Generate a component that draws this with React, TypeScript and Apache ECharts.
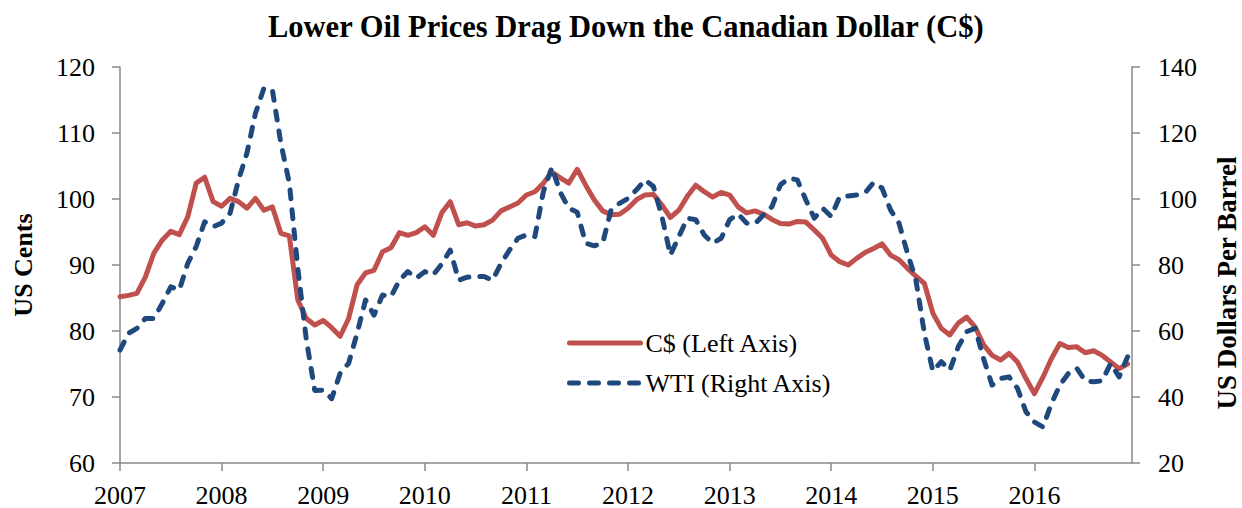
import React, { useEffect, useRef } from "react";
import * as echarts from "echarts";

const startYear = 2007;
const xTicks = [2007, 2008, 2009, 2010, 2011, 2012, 2013, 2014, 2015, 2016];
const leftTicks = [60, 70, 80, 90, 100, 110, 120];
const rightTicks = [20, 40, 60, 80, 100, 120, 140];

// C$ in US cents, monthly Jan 2007 .. Dec 2016
const cad = [
  85.2, 85.4, 85.7, 88.2, 91.8, 93.8, 95.1, 94.6, 97.3, 102.4, 103.3, 99.6,
  98.9, 100.1, 99.6, 98.6, 100.1, 98.3, 98.8, 94.8, 94.4, 84.7, 81.9, 80.9,
  81.6, 80.5, 79.2, 81.9, 87.0, 88.8, 89.2, 92.0, 92.6, 94.9, 94.5, 94.9,
  95.8, 94.5, 97.9, 99.6, 96.1, 96.4, 95.9, 96.1, 96.8, 98.2, 98.8, 99.4,
  100.6, 101.1, 102.4, 104.1, 103.2, 102.4, 104.5, 102.1, 99.9, 98.2, 97.6, 97.7,
  98.6, 99.9, 100.6, 100.7, 99.1, 97.2, 98.3, 100.4, 102.1, 101.1, 100.3, 101.0,
  100.6, 98.8, 97.9, 98.2, 97.7, 96.9, 96.3, 96.2, 96.6, 96.5, 95.3, 94.0,
  91.5, 90.5, 90.0, 91.0, 91.9, 92.5, 93.2, 91.5, 90.8, 89.5, 88.3, 87.2,
  82.7, 80.4, 79.4, 81.2, 82.1, 80.6, 77.9, 76.3, 75.6, 76.6, 75.3, 72.8,
  70.5, 73.0, 75.8, 78.1, 77.5, 77.6, 76.7, 77.0, 76.3, 75.3, 74.3, 75.0,
];

// WTI in US dollars per barrel, monthly Jan 2007 .. Dec 2016
const wti = [
  54.2, 59.3, 60.8, 63.8, 63.8, 68.4, 73.4, 72.4, 80.5, 85.6, 93.1, 91.6,
  92.7, 95.7, 105.8, 114.0, 126.0, 133.6, 133.0, 116.9, 104.8, 79.0, 57.5, 42.0,
  42.1, 39.5, 47.2, 50.2, 59.3, 69.4, 64.8, 70.9, 70.4, 75.4, 78.0, 76.0,
  78.0, 77.0, 80.3, 84.5, 75.4, 76.3, 76.5, 76.5, 75.4, 80.5, 84.5, 88.1,
  89.1, 88.6, 102.2, 109.6, 102.0, 97.2, 96.0, 86.6, 85.8, 86.6, 96.7, 98.7,
  100.2, 102.8, 105.8, 103.8, 94.7, 83.0, 88.6, 94.2, 93.7, 89.1, 86.6, 88.1,
  93.7, 95.5, 92.7, 92.5, 95.2, 97.7, 104.3, 106.3, 105.8, 99.7, 94.2, 97.2,
  94.7, 100.7, 100.9, 101.2, 101.9, 105.0, 103.3, 96.7, 92.7, 83.6, 75.4, 59.3,
  47.8, 50.7, 48.1, 55.2, 59.8, 60.8, 51.5, 43.6, 45.6, 46.1, 42.6, 35.5,
  32.4, 30.9, 38.0, 43.6, 47.1, 48.7, 44.9, 44.6, 44.9, 50.2, 46.1, 52.2,
];

const FONT = "'Liberation Serif', 'Times New Roman', serif";
const AXIS_COLOR = "#888888";
const RED = "#C0504D";
const BLUE = "#1F497D";

export default function App() {
  const ref = useRef<HTMLDivElement>(null);

  useEffect(() => {
    document.body.style.margin = "0";
    const chart = echarts.init(ref.current as HTMLDivElement, null, { renderer: "svg" });
    const monthX = cad.map((_, i) => startYear + i / 12);
    const cadData = cad.map((v, i) => [monthX[i], v]);
    const wtiData = wti.map((v, i) => [monthX[i], v]);

    const axisLine = { show: true, lineStyle: { color: AXIS_COLOR, width: 1.5 } };
    const axisTick = { show: true, length: 8, lineStyle: { color: AXIS_COLOR, width: 1.5 } };
    const labelStyle = { color: "#000", fontFamily: FONT, fontSize: 26 };

    chart.setOption({
      animation: false,
      backgroundColor: "#fff",
      title: {
        text: "Lower Oil Prices Drag Down the Canadian Dollar (C$)",
        left: 263,
        top: 6,
        textStyle: { fontFamily: FONT, fontWeight: "bold", fontSize: 30.5, color: "#000" },
      },
      grid: { left: 120, right: 110, top: 67, bottom: 45, containLabel: false },
      legend: {
        orient: "vertical",
        left: 567,
        top: 330,
        padding: 0,
        itemWidth: 71,
        itemHeight: 14,
        itemGap: 14,
        itemStyle: { opacity: 0 },
        lineStyle: { width: 5 },
        textStyle: { fontFamily: FONT, fontSize: 26, color: "#000" },
        data: ["C$ (Left Axis)", "WTI (Right Axis)"],
      },
      xAxis: {
        type: "value",
        min: 2007,
        max: 2016.96,
        interval: 1,
        axisLine,
        axisTick: { ...axisTick, customValues: xTicks },
        splitLine: { show: false },
        axisLabel: {
          ...labelStyle,
          margin: 19,
          customValues: xTicks,
          formatter: (v: number) => (Number.isInteger(v) ? String(v) : ""),
        },
      },
      yAxis: [
        {
          type: "value",
          min: leftTicks[0],
          max: leftTicks[leftTicks.length - 1],
          interval: 10,
          position: "left",
          axisLine,
          axisTick,
          splitLine: { show: false },
          axisLabel: { ...labelStyle, margin: 25 },
        },
        {
          type: "value",
          min: rightTicks[0],
          max: rightTicks[rightTicks.length - 1],
          interval: 20,
          position: "right",
          axisLine,
          axisTick,
          splitLine: { show: false },
          axisLabel: { ...labelStyle, margin: 26 },
        },
      ],
      graphic: [
        {
          type: "text",
          x: 23,
          y: 265,
          rotation: Math.PI / 2,
          style: {
            text: "US Cents",
            font: `bold 26px ${FONT}`,
            fill: "#000",
            textAlign: "center",
            textVerticalAlign: "middle",
          },
        },
        {
          type: "text",
          x: 1227,
          y: 283,
          rotation: Math.PI / 2,
          style: {
            text: "US Dollars Per Barrel",
            font: `bold 27px ${FONT}`,
            fill: "#000",
            textAlign: "center",
            textVerticalAlign: "middle",
          },
        },
      ],
      series: [
        {
          name: "C$ (Left Axis)",
          type: "line",
          yAxisIndex: 0,
          data: cadData,
          symbol: "none",
          showSymbol: false,
          lineStyle: { color: RED, width: 5, cap: "round", join: "round" },
          itemStyle: { color: RED },
        },
        {
          name: "WTI (Right Axis)",
          type: "line",
          yAxisIndex: 1,
          data: wtiData,
          symbol: "none",
          showSymbol: false,
          lineStyle: { color: BLUE, width: 5, type: [9, 11], cap: "round", join: "round" },
          itemStyle: { color: BLUE },
        },
      ],
    });
    return () => chart.dispose();
  }, []);

  return <div ref={ref} style={{ width: 1242, height: 508 }} />;
}
